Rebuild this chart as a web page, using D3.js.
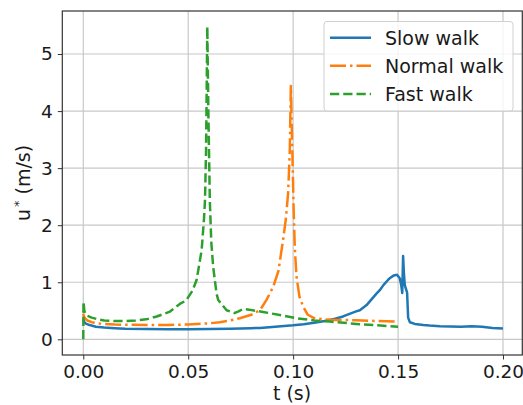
<!DOCTYPE html>
<html>
<head>
<meta charset="utf-8">
<script src="https://cdn.jsdelivr.net/npm/d3@7"></script>
<style>
  html, body { margin: 0; padding: 0; background: #fff; }
  svg { display: block; font-family: "DejaVu Sans", sans-serif; }
</style>
</head>
<body>
<svg id="chart" width="523" height="405"></svg>
<script>
// ---- data ----
const slowT = [0, 0.0005, 0.001, 0.003, 0.006, 0.01, 0.015, 0.02, 0.03, 0.04, 0.05, 0.06, 0.07, 0.08, 0.0842, 0.09, 0.1, 0.105, 0.11, 0.115, 0.12, 0.1238, 0.125, 0.13, 0.1318, 0.135, 0.1397, 0.1413, 0.143, 0.1452, 0.146, 0.148, 0.1495, 0.1508, 0.1515, 0.152, 0.1524, 0.1528, 0.1532, 0.1538, 0.1543, 0.1548, 0.1556, 0.158, 0.162, 0.165, 0.17, 0.175, 0.18, 0.185, 0.19, 0.195, 0.2];
const slowU = [0.36, 0.30, 0.28, 0.25, 0.22, 0.205, 0.195, 0.185, 0.18, 0.178, 0.178, 0.18, 0.185, 0.195, 0.20, 0.215, 0.245, 0.265, 0.29, 0.32, 0.36, 0.40, 0.42, 0.49, 0.51, 0.60, 0.80, 0.86, 0.95, 1.04, 1.07, 1.12, 1.13, 1.07, 0.95, 0.81, 1.46, 1.15, 0.95, 0.88, 0.82, 0.38, 0.30, 0.27, 0.25, 0.24, 0.23, 0.225, 0.22, 0.23, 0.22, 0.20, 0.19];

const normalT = [0, 0.0003, 0.001, 0.002, 0.004, 0.007, 0.01, 0.015, 0.02, 0.03, 0.04, 0.05, 0.06, 0.065, 0.07, 0.0746, 0.08, 0.0842, 0.0873, 0.0905, 0.093, 0.0952, 0.0965, 0.0976, 0.0984, 0.0989, 0.0993, 0.0998, 0.1003, 0.1008, 0.1016, 0.103, 0.1048, 0.107, 0.11, 0.115, 0.12, 0.13, 0.14, 0.15];
const normalU = [0.45, 0.40, 0.36, 0.33, 0.30, 0.28, 0.27, 0.26, 0.255, 0.25, 0.25, 0.26, 0.28, 0.30, 0.33, 0.37, 0.43, 0.51, 0.69, 0.92, 1.2, 1.74, 2.1, 2.56, 3.3, 4.44, 3.8, 3.0, 2.2, 1.6, 1.1, 0.75, 0.57, 0.43, 0.37, 0.35, 0.34, 0.335, 0.32, 0.31];

const fastT = [0, 0.0001, 0.0005, 0.001, 0.002, 0.004, 0.007, 0.01, 0.015, 0.02, 0.025, 0.03, 0.035, 0.041, 0.046, 0.049, 0.052, 0.054, 0.0564, 0.0575, 0.058, 0.0585, 0.0591, 0.0596, 0.0603, 0.061, 0.0619, 0.0635, 0.0643, 0.0683, 0.072, 0.074, 0.076, 0.079, 0.082, 0.0857, 0.09, 0.1016, 0.11, 0.1175, 0.13, 0.14, 0.15];
const fastU = [0.0, 0.66, 0.50, 0.45, 0.41, 0.38, 0.35, 0.33, 0.32, 0.32, 0.33, 0.35, 0.40, 0.48, 0.62, 0.68, 0.85, 1.04, 1.56, 2.1, 2.44, 3.3, 5.48, 4.0, 2.44, 1.7, 1.27, 0.80, 0.69, 0.51, 0.46, 0.49, 0.53, 0.52, 0.50, 0.48, 0.45, 0.37, 0.33, 0.31, 0.27, 0.245, 0.22];

const seriesNames = ["Slow walk", "Normal walk", "Fast walk"];
const xTicks = [0.00, 0.05, 0.10, 0.15, 0.20];
const yTicks = [0, 1, 2, 3, 4, 5];
const xLabel = "t (s)";

// ---- layout ----
const svg = d3.select("#chart");
const L = 62.3, R = 522.3, T = 11, B = 355;
const x = d3.scaleLinear().domain([-0.0100, 0.2092]).range([L, R]);
const y = d3.scaleLinear().domain([-0.275, 5.754]).range([B, T]);

const colors = ["#1f77b4", "#ff7f0e", "#2ca02c"];
const lw = 2.5;
const dashes = [null, [6.4*lw, 1.6*lw, 1*lw, 1.6*lw].join(","), [3.7*lw, 1.6*lw].join(",")];
const fs = 18.5;

// grid
const grid = svg.append("g");
grid.selectAll(".gx").data(xTicks).join("line")
  .attr("x1", d => x(d)).attr("x2", d => x(d)).attr("y1", T).attr("y2", B)
  .attr("stroke", "#c8c8c8").attr("stroke-width", 1.2);
grid.selectAll(".gy").data(yTicks).join("line")
  .attr("y1", d => y(d)).attr("y2", d => y(d)).attr("x1", L).attr("x2", R)
  .attr("stroke", "#c8c8c8").attr("stroke-width", 1.2);

// lines
svg.append("clipPath").attr("id", "clip").append("rect")
  .attr("x", L).attr("y", T).attr("width", R - L).attr("height", B - T);
const data = [
  slowT.map((t, i) => [t, slowU[i]]),
  normalT.map((t, i) => [t, normalU[i]]),
  fastT.map((t, i) => [t, fastU[i]])
];
const line = d3.line().x(d => x(d[0])).y(d => y(d[1]));
const lines = svg.append("g").attr("clip-path", "url(#clip)");
data.forEach((ser, i) => {
  lines.append("path").datum(ser)
    .attr("d", line)
    .attr("fill", "none")
    .attr("stroke", colors[i])
    .attr("stroke-width", lw)
    .attr("stroke-linejoin", "round")
    .attr("stroke-dasharray", dashes[i]);
});

// axes
const xAxis = d3.axisBottom(x).tickValues(xTicks).tickFormat(d3.format(".2f")).tickSize(4.5).tickPadding(5);
const yAxis = d3.axisLeft(y).tickValues(yTicks).tickFormat(d3.format("d")).tickSize(4.5).tickPadding(5);
const gx = svg.append("g").attr("transform", `translate(0,${B})`).call(xAxis);
const gy = svg.append("g").attr("transform", `translate(${L},0)`).call(yAxis);
[gx, gy].forEach(g => {
  g.select(".domain").remove();
  g.selectAll(".tick line").attr("stroke", "#333").attr("stroke-width", 1);
  g.selectAll(".tick text").attr("fill", "#1a1a1a").attr("font-size", fs).attr("font-family", "DejaVu Sans");
});

// frame
svg.append("rect").attr("x", L).attr("y", T).attr("width", R - L).attr("height", B - T)
  .attr("fill", "none").attr("stroke", "#333").attr("stroke-width", 1.2);

// axis labels
svg.append("text").attr("x", 292).attr("y", 400)
  .attr("text-anchor", "middle").attr("font-size", 19).attr("fill", "#1a1a1a")
  .text(xLabel);
const yl = svg.append("text").attr("transform", `translate(30,${(T + B) / 2}) rotate(-90)`)
  .attr("text-anchor", "middle").attr("font-size", 19).attr("fill", "#1a1a1a");
yl.append("tspan").text("u");
yl.append("tspan").attr("dy", -7).attr("font-size", 13).attr("dx", 2).text("*");
yl.append("tspan").attr("dy", 7).text(" (m/s)");

// legend
const lg = svg.append("g");
lg.append("rect").attr("x", 324).attr("y", 21.5).attr("width", 189).attr("height", 89.5)
  .attr("rx", 3).attr("fill", "#fff").attr("fill-opacity", 0.8)
  .attr("stroke", "#d0d0d0").attr("stroke-width", 1);
const rowsY = [37.7, 65.7, 94];
seriesNames.forEach((name, i) => {
  lg.append("line").attr("x1", 330).attr("x2", 371).attr("y1", rowsY[i]).attr("y2", rowsY[i])
    .attr("stroke", colors[i]).attr("stroke-width", lw).attr("stroke-dasharray", dashes[i]);
  lg.append("text").attr("x", 385).attr("y", rowsY[i]).attr("dy", "0.36em")
    .attr("font-size", 19).attr("fill", "#1a1a1a").text(name);
});
</script>
</body>
</html>
